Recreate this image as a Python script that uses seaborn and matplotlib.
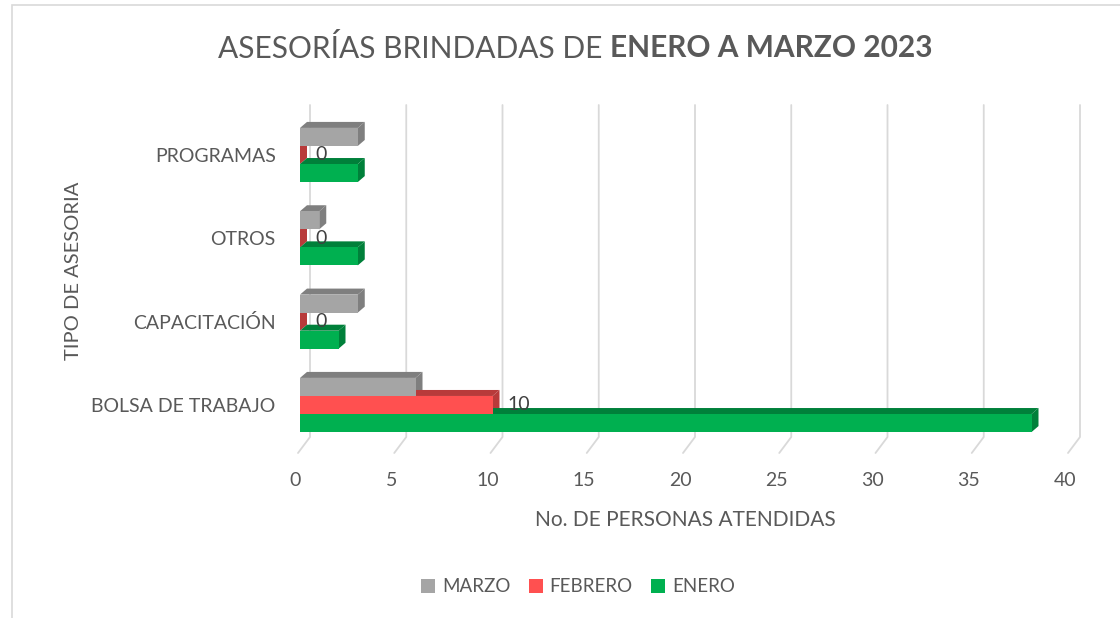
import matplotlib
matplotlib.use("Agg")
import matplotlib.pyplot as plt
import matplotlib.transforms as mtransforms
from matplotlib.patches import Polygon, Rectangle
from matplotlib.lines import Line2D
import pandas as pd
import seaborn as sns

# datos
categorias = ["PROGRAMAS", "OTROS", "CAPACITACIÓN", "BOLSA DE TRABAJO"]
meses = ["MARZO", "FEBRERO", "ENERO"]
marzo = [3, 1, 3, 6]
febrero = [0, 0, 0, 10]
enero = [3, 3, 2, 38]
ticks_x = [0, 5, 10, 15, 20, 25, 30, 35, 40]

colores = {"MARZO": "#a5a5a5", "FEBRERO": "#ff5050", "ENERO": "#00b050"}
lados = {"MARZO": "#7f7f7f", "FEBRERO": "#b83a3a", "ENERO": "#00803a"}
gris_texto = "#595959"

df = pd.DataFrame({
    "tipo": categorias * 3,
    "mes": ["MARZO"] * 4 + ["FEBRERO"] * 4 + ["ENERO"] * 4,
    "valor": marzo + febrero + enero,
})

sns.set_theme(style="white")
plt.rcParams["font.family"] = ["Lato", "DejaVu Sans"]

W, H = 1120, 618
fig = plt.figure(figsize=(W / 100, H / 100), dpi=100, facecolor="white")
ax = fig.add_axes([300 / W, 1 - 437 / H, 770 / W, 332 / H])
ax.set_facecolor("none")

sns.barplot(data=df, y="tipo", x="valor", hue="mes", order=categorias,
            hue_order=meses, palette=colores, width=0.65, orient="h",
            saturation=1, errorbar=None, ax=ax, linewidth=0)

ax.set_xlim(0, 40)
ax.set_ylim(3.384, -0.6)
ax.set_xticks(ticks_x)
for s in ax.spines.values():
    s.set_visible(False)
ax.grid(False)
ax.tick_params(axis="x", length=0, pad=25, labelsize=14, labelcolor=gris_texto)
ax.tick_params(axis="y", length=0, pad=17.5, labelsize=14, labelcolor=gris_texto)
ax.set_xlabel("No. DE PERSONAS ATENDIDAS", fontsize=15, color=gris_texto, labelpad=15)
ax.set_ylabel("TIPO DE ASESORIA", fontsize=14.5, color=gris_texto, labelpad=7)

desplaza = mtransforms.ScaledTranslation(-0.05, 0, fig.dpi_scale_trans)
for lab in ax.get_xticklabels():
    lab.set_transform(lab.get_transform() + desplaza)

# rejilla con perspectiva
fig.canvas.draw()
ident = mtransforms.IdentityTransform()
dx, dy = 7, 6
_, ybot = ax.transAxes.transform((0, 0))
_, ytop = ax.transAxes.transform((0, 1))
for t in ticks_x:
    xb, _ = ax.transData.transform((t, 0))
    ax.add_line(Line2D([xb + 10, xb + 10, xb - 2], [ytop, ybot, ybot - 16], transform=ident,
                       color="#d9d9d9", lw=1.3, zorder=0.5, clip_on=False))

# caras laterales y superiores de cada barra
for mes, cont in zip(meses, ax.containers):
    for p in cont.patches:
        p.set_zorder(3)
        x0, y0 = p.get_x(), p.get_y()
        (xl, ya), (xr, yc) = ax.transData.transform([(x0, y0), (x0 + p.get_width(), y0 + p.get_height())])
        yt, yb = max(ya, yc), min(ya, yc)
        top = [(xl, yt), (xr, yt), (xr + dx, yt + dy), (xl + dx, yt + dy)]
        side = [(xr, yb), (xr, yt), (xr + dx, yt + dy), (xr + dx, yb + dy)]
        for pts in (top, side):
            ax.add_patch(Polygon(pts, closed=True, transform=ident, clip_on=False,
                                 facecolor=lados[mes], edgecolor="none", zorder=2))
    if mes == "FEBRERO":
        ax.bar_label(cont, padding=11, fontsize=14, color="#404040")

sns.move_legend(ax, "center", bbox_to_anchor=(578 / W, 1 - 587 / H),
                bbox_transform=fig.transFigure, ncol=3, frameon=False, title=None,
                fontsize=13.5, handlelength=0.75, handleheight=0.75, columnspacing=1.0,
                handletextpad=0.35, labelcolor=gris_texto)

# titulo con parte en negrita
t1 = fig.text(0, 1 - 48 / H, "ASESORÍAS BRINDADAS DE ", fontsize=21.5, color=gris_texto, va="center")
t2 = fig.text(0, 1 - 48 / H, "ENERO A MARZO 2023", fontsize=21.5, color=gris_texto,
              fontweight="bold", va="center")
r = fig.canvas.get_renderer()
w1 = t1.get_window_extent(r).width
w2 = t2.get_window_extent(r).width
x_ini = 575 - (w1 + w2) / 2
t1.set_x(x_ini / W)
t2.set_x((x_ini + w1) / W)

fig.add_artist(Rectangle((12 / W, -0.02), 1.0, 1 - 5 / H + 0.02, transform=fig.transFigure,
                         fill=False, edgecolor="#d9d9d9", lw=1.2))

fig.savefig("out.png", dpi=100)
